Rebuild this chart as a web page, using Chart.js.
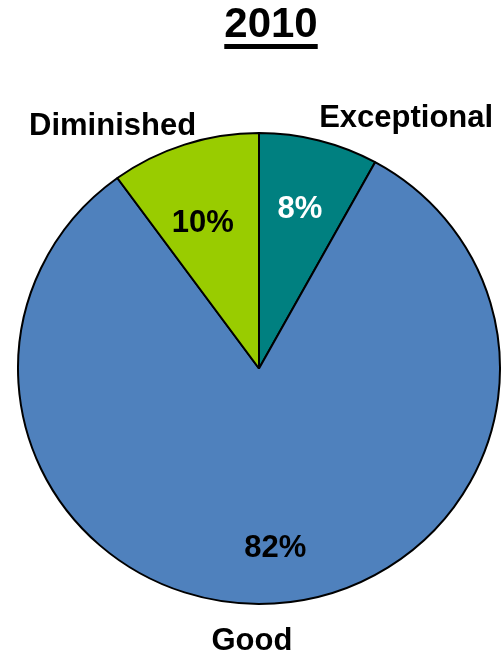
<!DOCTYPE html>
<html>
<head>
<meta charset="utf-8">
<script src="https://cdn.jsdelivr.net/npm/chart.js@4.4.1/dist/chart.umd.min.js"></script>
<style>
  html, body { margin: 0; padding: 0; background: #ffffff; }
  #wrap { position: relative; width: 502px; height: 655px; overflow: hidden; }
  #title {
    position: absolute; left: 0; top: 2px; width: 542px; text-align: center;
    font-family: "Liberation Sans", Arial, sans-serif; font-weight: bold; font-size: 42px;
    line-height: 42px; color: #000;
    text-decoration: underline; text-decoration-thickness: 5px; text-underline-offset: 7px;
  }
  canvas { position: absolute; left: 0; top: 0; }
</style>
</head>
<body>
<div id="wrap">
  <canvas id="c" width="502" height="655"></canvas>
  <div id="title">2010</div>
</div>
<script>
// ---- data ----
const categories = ["Exceptional", "Good", "Diminished"];
const shares = [8, 82, 10];
const percentLabels = ["8%", "82%", "10%"];
const sliceColors = ["#008080", "#4F81BD", "#99CC00"];

// ---- label layout (relative to each slice's mid-angle) ----
const innerLayout = [ {f: 0.70, dx: -1, dy: 9, color: "#ffffff"},
                      {f: 0.75, dx: 5, dy: 12, color: "#000000"},
                      {f: 0.70, dx: -4, dy: 20, color: "#000000"} ];
const outerLayout = [ {f: 1.12, dx: 80, dy: 14},
                      {f: 1.12, dx: -24, dy: 18},
                      {f: 1.12, dx: -63, dy: 17} ];
const yScale = 0.977; // pie is slightly wider than tall in the reference

const FONT = '"Liberation Sans", Arial, sans-serif';

const ellipsePlugin = {
  id: 'ellipse',
  beforeDatasetsDraw(chart) {
    const arc = chart.getDatasetMeta(0).data[0];
    const ctx = chart.ctx;
    ctx.save();
    ctx.translate(arc.x, arc.y);
    ctx.scale(1, yScale);
    ctx.translate(-arc.x, -arc.y);
  },
  afterDatasetsDraw(chart) {
    chart.ctx.restore();
  }
};

const labelPlugin = {
  id: 'pieLabels',
  afterDraw(chart) {
    const ctx = chart.ctx;
    const meta = chart.getDatasetMeta(0);
    ctx.save();
    ctx.textAlign = 'center';
    ctx.textBaseline = 'alphabetic';
    meta.data.forEach((arc, i) => {
      const mid = (arc.startAngle + arc.endAngle) / 2;
      const R = arc.outerRadius;
      const cx = arc.x, cy = arc.y;
      const pos = (f) => ({ x: cx + Math.cos(mid) * R * f, y: cy + Math.sin(mid) * R * f * yScale });
      const inn = innerLayout[i];
      const p1 = pos(inn.f);
      ctx.font = 'bold 31px ' + FONT;
      ctx.fillStyle = inn.color;
      ctx.fillText(percentLabels[i], p1.x + inn.dx, p1.y + inn.dy);
      const out = outerLayout[i];
      const p2 = pos(out.f);
      ctx.fillStyle = '#000000';
      ctx.fillText(categories[i], p2.x + out.dx, p2.y + out.dy);
    });
    ctx.restore();
  }
};

new Chart(document.getElementById('c'), {
  type: 'pie',
  data: {
    labels: categories,
    datasets: [{
      data: shares,
      backgroundColor: sliceColors,
      borderColor: '#000000',
      borderWidth: 2,
      hoverOffset: 0
    }]
  },
  options: {
    responsive: false,
    animation: false,
    events: [],
    layout: { padding: { left: 17, right: 1, top: 126.5, bottom: 44.5 } },
    plugins: {
      legend: { display: false },
      tooltip: { enabled: false },
      title: { display: false }
    }
  },
  plugins: [ellipsePlugin, labelPlugin]
});
</script>
</body>
</html>
